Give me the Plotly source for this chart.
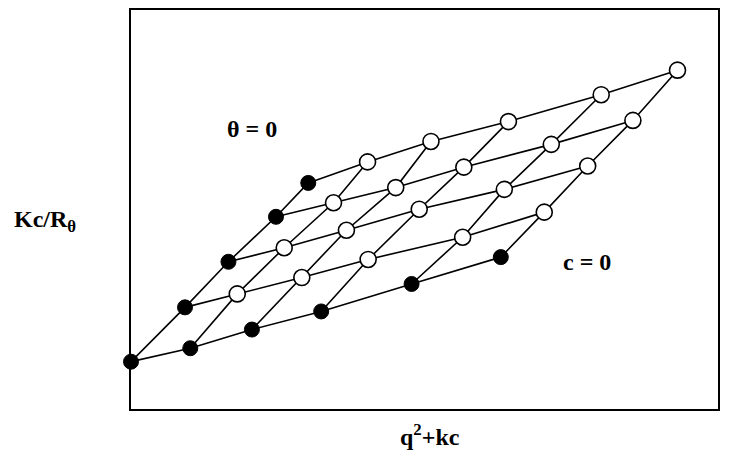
import plotly.graph_objects as go

# Zimm-plot lattice: rows = concentration index (c = 0 .. 4),
# columns = scattering-angle index (theta = 0 .. 5). x = q^2 + kc, y = Kc/R_theta (arbitrary units)
conc_labels = ["c=0", "c1", "c2", "c3", "c4"]
angle_labels = ["θ=0", "θ1", "θ2", "θ3", "θ4", "θ5"]

x_vals = [
    [0.00, 1.01, 2.06, 3.24, 4.78, 6.30],
    [0.92, 1.81, 2.91, 4.04, 5.65, 7.04],
    [1.66, 2.61, 3.67, 4.91, 6.36, 7.78],
    [2.47, 3.45, 4.51, 5.67, 7.16, 8.55],
    [3.02, 4.03, 5.11, 6.43, 8.01, 9.31],
]
y_vals = [
    [0.81, 1.04, 1.36, 1.67, 2.14, 2.60],
    [1.74, 1.97, 2.25, 2.56, 2.94, 3.37],
    [2.52, 2.76, 3.06, 3.42, 3.76, 4.16],
    [3.29, 3.53, 3.79, 4.14, 4.53, 4.94],
    [3.87, 4.23, 4.58, 4.92, 5.38, 5.80],
]

x_range = [0, 10]
y_range = [0, 6.83]

fig = go.Figure()
line_style = dict(color="black", width=1.6)

# constant-concentration lines
for j in range(len(conc_labels)):
    fig.add_trace(go.Scatter(x=x_vals[j], y=y_vals[j], mode="lines",
                             line=line_style, hoverinfo="skip", cliponaxis=False))
# constant-angle lines
for i in range(len(angle_labels)):
    fig.add_trace(go.Scatter(x=[x_vals[j][i] for j in range(len(conc_labels))],
                             y=[y_vals[j][i] for j in range(len(conc_labels))],
                             mode="lines", line=line_style, hoverinfo="skip", cliponaxis=False))

# measured points (open) and extrapolated points (filled)
ox, oy, fx, fy = [], [], [], []
for j in range(len(conc_labels)):
    for i in range(len(angle_labels)):
        if i == 0 or j == 0:
            fx.append(x_vals[j][i]); fy.append(y_vals[j][i])
        else:
            ox.append(x_vals[j][i]); oy.append(y_vals[j][i])

fig.add_trace(go.Scatter(x=ox, y=oy, mode="markers", cliponaxis=False,
                         marker=dict(symbol="circle", size=16, color="white",
                                     line=dict(color="black", width=1.6))))
fig.add_trace(go.Scatter(x=fx, y=fy, mode="markers", cliponaxis=False,
                         marker=dict(symbol="circle", size=15, color="black",
                                     line=dict(color="black", width=1))))

font = dict(family="Liberation Serif, Times New Roman, serif", size=24, color="black", weight="bold")

fig.add_annotation(x=2.06, y=4.80, xref="x", yref="y", text="θ = 0", showarrow=False, font=font)
fig.add_annotation(x=7.77, y=2.52, xref="x", yref="y", text="c = 0", showarrow=False, font=font)
fig.add_annotation(x=-0.203, y=0.47, xref="paper", yref="paper", xanchor="left", yanchor="middle",
                   text="Kc/R<sub>θ</sub>", showarrow=False, font=font)
fig.add_annotation(x=0.509, y=-0.065, xref="paper", yref="paper", xanchor="center", yanchor="middle",
                   text="q<sup>2</sup>+kc", showarrow=False, font=font)

axis_common = dict(showgrid=False, zeroline=False, showticklabels=False, ticks="",
                   showline=True, mirror=True, linecolor="black", linewidth=2)
fig.update_xaxes(range=x_range, **axis_common)
fig.update_yaxes(range=y_range, **axis_common)

fig.update_layout(width=736, height=459, showlegend=False,
                  margin=dict(l=131, r=18, t=8, b=50),
                  plot_bgcolor="white", paper_bgcolor="white")

fig.write_html("out.html")
